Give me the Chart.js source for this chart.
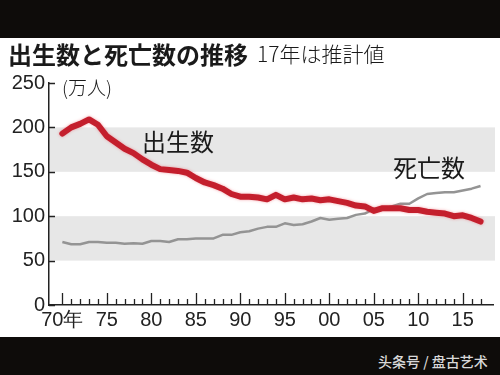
<!DOCTYPE html>
<html lang="ja">
<head>
<meta charset="utf-8">
<script src="https://cdn.jsdelivr.net/npm/chart.js@4"></script>
<style>
  html, body { margin: 0; padding: 0; }
  body { width: 500px; height: 375px; background: #0e0c0a; position: relative; overflow: hidden; }
  .panel { position: absolute; left: 0; top: 38px; width: 500px; height: 299px; background: #fff; }
  .txt { position: absolute; line-height: 1; white-space: nowrap; font-family: "Noto Sans CJK JP", sans-serif; color: #1a1a1a; }
  #title { left: 8px; top: 42px; font-size: 24px; font-weight: 700; }
  #note { left: 257px; top: 43px; font-size: 21px; font-weight: 300; }
  #unit { left: 62px; top: 77px; font-size: 19px; font-weight: 300; }
  #lblBirth { left: 142px; top: 129px; font-size: 24px; font-weight: 400; }
  #lblDeath { left: 393px; top: 155px; font-size: 24px; font-weight: 400; }
  #mark { left: 378px; top: 354px; font-size: 14px; font-weight: 500; color: #d8d8d8; font-family: "Noto Sans CJK SC", sans-serif; }
  canvas { position: absolute; left: 0; top: 0; }
</style>
</head>
<body>
<div class="panel"><canvas id="chart" width="500" height="299"></canvas></div>
<div class="txt" id="title">出生数と死亡数の推移</div>
<div class="txt" id="note">17年は推計値</div>
<div class="txt" id="unit">(万人)</div>
<div class="txt" id="lblBirth">出生数</div>
<div class="txt" id="lblDeath">死亡数</div>
<div class="txt" id="mark">头条号 / 盘古艺术</div>
<script>
// 年（1970〜2017）
const years = [1970, 1971, 1972, 1973, 1974, 1975, 1976, 1977, 1978, 1979,
    1980, 1981, 1982, 1983, 1984, 1985, 1986, 1987, 1988, 1989,
    1990, 1991, 1992, 1993, 1994, 1995, 1996, 1997, 1998, 1999,
    2000, 2001, 2002, 2003, 2004, 2005, 2006, 2007, 2008, 2009,
    2010, 2011, 2012, 2013, 2014, 2015, 2016, 2017];

// 出生数（万人）
const births = [193, 200, 204, 209, 203, 190, 183, 176, 171, 164,
    158, 153, 152, 151, 149, 143, 138, 135, 131, 125,
    122, 122, 121, 119, 124, 119, 121, 119, 120, 118,
    119, 117, 115, 112, 111, 106, 109, 109, 109, 107,
    107, 105, 104, 103, 100, 101, 98, 94];

// 死亡数（万人）
const deaths = [71, 68.5, 68.5, 71, 71, 70, 70, 69, 69.5, 69,
    72, 72, 71, 74, 74, 75, 75, 75, 79, 79,
    82, 83, 86, 88, 88, 92, 90, 91, 94, 98,
    96, 97, 98, 101.5, 103, 108, 108.5, 111, 114, 114,
    120, 125, 126, 127, 127, 129, 131, 134];

const xTickValues = [1970, 1975, 1980, 1985, 1990, 1995, 2000, 2005, 2010, 2015];
const xTickLabels = ['70年', '75', '80', '85', '90', '95', '00', '05', '10', '15'];
const yTickValues = [0, 50, 100, 150, 200, 250];
const bands = [[150, 200], [50, 100]];

const axisFont = { family: '"Liberation Sans", Arial, sans-serif', size: 20, weight: 'normal' };

// 背景の帯
const bandPlugin = {
    id: 'bands',
    beforeDraw(c) {
        const { ctx, chartArea, scales } = c;
        ctx.save();
        ctx.fillStyle = '#e7e7e7';
        bands.forEach(b => {
            const top = scales.y.getPixelForValue(b[1]);
            const bottom = scales.y.getPixelForValue(b[0]);
            ctx.fillRect(chartArea.left, top, chartArea.right - chartArea.left + 2, bottom - top);
        });
        ctx.restore();
    }
};

// 内向きの目盛り
const innerTicks = {
    id: 'innerTicks',
    afterDraw(c) {
        const { ctx, chartArea, scales } = c;
        ctx.save();
        ctx.strokeStyle = '#222';
        ctx.lineWidth = 1.3;
        ctx.beginPath();
        for (let yr = years[0]; yr <= years[years.length - 1]; yr++) {
            const x = Math.round(scales.x.getPixelForValue(yr)) + 0.5;
            const len = yr % 5 === 0 ? 12 : 6;
            ctx.moveTo(x, chartArea.bottom);
            ctx.lineTo(x, chartArea.bottom - len);
        }
        yTickValues.forEach(v => {
            const y = Math.round(scales.y.getPixelForValue(v)) + 0.5;
            ctx.moveTo(chartArea.left, y);
            ctx.lineTo(chartArea.left + 6, y);
        });
        ctx.stroke();
        ctx.restore();
    }
};

// 赤線のにじみ
const glow = {
    id: 'glow',
    beforeDatasetDraw(c, args) {
        if (args.index === 0) {
            c.ctx.save();
            c.ctx.shadowColor = 'rgba(235, 90, 100, 0.55)';
            c.ctx.shadowBlur = 3;
        }
    },
    afterDatasetDraw(c, args) {
        if (args.index === 0) c.ctx.restore();
    }
};

new Chart(document.getElementById('chart'), {
    type: 'line',
    data: {
        datasets: [
            {
                label: '出生数',
                data: years.map((y, i) => ({ x: y, y: births[i] })),
                borderColor: '#c41f2d',
                borderWidth: 6,
                borderJoinStyle: 'round',
                borderCapStyle: 'round',
                pointRadius: 0,
                tension: 0
            },
            {
                label: '死亡数',
                data: years.map((y, i) => ({ x: y, y: deaths[i] })),
                borderColor: '#949494',
                borderWidth: 2.5,
                borderJoinStyle: 'round',
                pointRadius: 0,
                tension: 0
            }
        ]
    },
    options: {
        responsive: false,
        animation: false,
        layout: { padding: { top: 45, right: 7, left: 0, bottom: 0 } },
        plugins: { legend: { display: false }, tooltip: { enabled: false } },
        scales: {
            x: {
                type: 'linear',
                min: 1968.5,
                max: 2018.4,
                afterBuildTicks: s => { s.ticks = xTickValues.map(v => ({ value: v })); },
                afterFit: s => { s.height = 32; },
                grid: { display: false, drawTicks: false },
                border: { display: true, color: '#222', width: 1.5 },
                ticks: {
                    autoSkip: false,
                    maxRotation: 0,
                    padding: 3,
                    color: '#222',
                    font: axisFont,
                    callback: (v, i) => xTickLabels[i]
                }
            },
            y: {
                min: 0,
                max: 250,
                afterBuildTicks: s => { s.ticks = yTickValues.map(v => ({ value: v })); },
                afterFit: s => { s.width = 49; },
                grid: { display: false, drawTicks: false },
                border: { display: true, color: '#222', width: 1.5 },
                ticks: {
                    padding: 4,
                    color: '#222',
                    font: axisFont
                }
            }
        }
    },
    plugins: [bandPlugin, innerTicks, glow]
});
</script>
</body>
</html>
